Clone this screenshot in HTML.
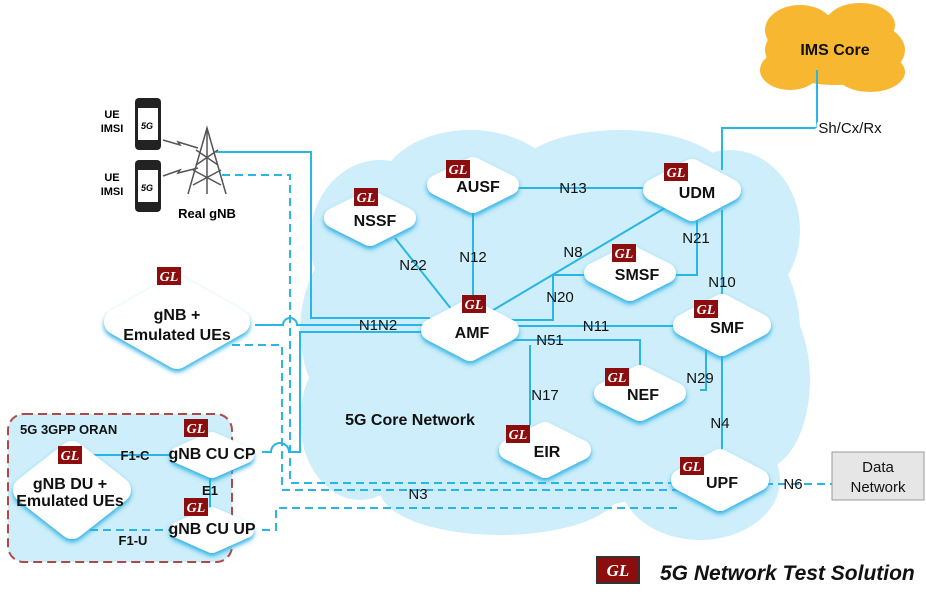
<!DOCTYPE html>
<html><head><meta charset="utf-8"><style>
body{margin:0;background:#fff;}
svg{display:block;font-family:"Liberation Sans",sans-serif;}
.n{font-weight:bold;font-size:16px;fill:#111;text-anchor:middle;}
.l{font-size:15px;fill:#111;text-anchor:middle;}
</style></head><body>
<svg width="926" height="600" viewBox="0 0 926 600">
<defs>
<g id="gl"><rect x="-12" y="-9" width="24" height="18" fill="#8b0d0d"/><text x="0" y="5" font-family="Liberation Serif" font-style="italic" font-weight="bold" font-size="14" fill="#fff" text-anchor="middle">GL</text></g>
<filter id="sh" x="-30%" y="-40%" width="160%" height="190%"><feDropShadow dx="0" dy="3" stdDeviation="2.5" flood-color="#2ab0e4" flood-opacity="1"/></filter>
</defs>
<g fill="#cdeefa">
<ellipse cx="550" cy="330" rx="250" ry="180"/>
<ellipse cx="470" cy="190" rx="90" ry="60"/>
<ellipse cx="620" cy="180" rx="110" ry="50"/>
<ellipse cx="730" cy="230" rx="70" ry="80"/>
<ellipse cx="380" cy="240" rx="70" ry="80"/>
<ellipse cx="360" cy="420" rx="60" ry="80"/>
<ellipse cx="500" cy="490" rx="120" ry="45"/>
<ellipse cx="700" cy="480" rx="80" ry="60"/>
<ellipse cx="760" cy="380" rx="50" ry="90"/>
</g>
<rect x="8" y="414" width="224" height="148" rx="16" fill="#cdeefa" stroke="#b04848" stroke-width="2" stroke-dasharray="9,5"/>
<text x="20" y="434" font-size="13" font-weight="bold" fill="#111">5G 3GPP ORAN</text>
<g fill="#f7b731">
<ellipse cx="835" cy="50" rx="70" ry="35"/><ellipse cx="800" cy="30" rx="35" ry="25"/><ellipse cx="860" cy="25" rx="35" ry="22"/><ellipse cx="790" cy="70" rx="30" ry="20"/><ellipse cx="870" cy="72" rx="35" ry="20"/>
</g>
<text x="835" y="55" class="n" font-size="15">IMS Core</text>
<g stroke="#29b6e4" stroke-width="2" fill="none">
<polyline points="817,70 817,128 722,128 722,170"/>
<line x1="515" y1="188" x2="650" y2="188"/>
<line x1="473" y1="208" x2="473" y2="310"/>
<line x1="395" y1="238" x2="452" y2="310"/>
<line x1="670" y1="205" x2="490" y2="312"/>
<polyline points="495,320 553,320 553,275 590,275"/>
<polyline points="697,215 697,275 672,275"/>
<line x1="722" y1="210" x2="722" y2="305"/>
<line x1="510" y1="326" x2="680" y2="326"/>
<polyline points="500,340 640,340 640,372"/>
<line x1="530" y1="345" x2="530" y2="425"/>
<polyline points="700,390 706,390 706,345"/>
<line x1="722" y1="345" x2="722" y2="460"/>
<polyline points="216,152 311,152 311,318 430,318"/>
<path d="M255,325 L283,325 A7,7 0 0 1 297,325 L430,325"/>
<path d="M262,452 L271,452 A9,9 0 0 1 289,452 L300,452 L300,332 L430,332"/>
<line x1="85" y1="455" x2="175" y2="455"/>
<line x1="210" y1="477" x2="210" y2="508"/>
</g>
<g stroke="#29b6e4" stroke-width="2" fill="none" stroke-dasharray="8,5">
<polyline points="222,175 290,175 290,483 680,483"/>
<polyline points="232,345 282,345 282,490 680,490"/>
<polyline points="262,530 276,530 276,508 680,508"/>
<line x1="90" y1="530" x2="170" y2="530"/>
<line x1="765" y1="484" x2="832" y2="484"/>
</g>
<g class="l">
<text x="850" y="133" fill="#111" font-size="15" text-anchor="middle" style="paint-order:stroke" stroke="#fff" stroke-width="6">Sh/Cx/Rx</text>
<text x="573" y="193">N13</text><text x="473" y="262">N12</text><text x="413" y="270">N22</text>
<text x="573" y="257">N8</text><text x="696" y="243">N21</text><text x="560" y="302">N20</text>
<text x="722" y="287">N10</text><text x="378" y="330">N1N2</text><text x="596" y="331">N11</text>
<text x="550" y="345">N51</text><text x="700" y="383">N29</text><text x="545" y="400">N17</text>
<text x="720" y="428">N4</text><text x="418" y="499">N3</text><text x="793" y="489">N6</text>
<text x="135" y="460" font-weight="bold" font-size="13">F1-C</text>
<text x="133" y="545" font-weight="bold" font-size="13">F1-U</text>
<text x="210" y="495" font-weight="bold" font-size="13">E1</text>
</g>
<text x="410" y="425" class="n">5G Core Network</text>
<g stroke-linejoin="round" fill="#fff" stroke="#fff" filter="url(#sh)">
<polygon transform="translate(473,185)" points="-36,0 0,-18 36,0 0,18" stroke-width="20"/>
<polygon transform="translate(692,190)" points="-38,0 0,-20 38,0 0,20" stroke-width="22"/>
<polygon transform="translate(370,218)" points="-36,0 0,-18 36,0 0,18" stroke-width="20"/>
<polygon transform="translate(630,273)" points="-36,0 0,-18 36,0 0,18" stroke-width="20"/>
<polygon transform="translate(470,330)" points="-38,0 0,-20 38,0 0,20" stroke-width="22"/>
<polygon transform="translate(722,325)" points="-38,0 0,-20 38,0 0,20" stroke-width="22"/>
<polygon transform="translate(640,393)" points="-36,0 0,-18 36,0 0,18" stroke-width="20"/>
<polygon transform="translate(545,450)" points="-36,0 0,-18 36,0 0,18" stroke-width="20"/>
<polygon transform="translate(720,480)" points="-38,0 0,-20 38,0 0,20" stroke-width="22"/>
<polygon transform="translate(177,322)" points="-60,0 0,-34 60,0 0,34" stroke-width="26"/>
<polygon transform="translate(72,490)" points="-46,0 0,-36 46,0 0,36" stroke-width="26"/>
<polygon transform="translate(212,455)" points="-34,0 0,-15 34,0 0,15" stroke-width="16"/>
<polygon transform="translate(212,530)" points="-34,0 0,-15 34,0 0,15" stroke-width="16"/>
</g>
<text x="478" y="192" class="n">AUSF</text>
<text x="697" y="198" class="n">UDM</text>
<text x="375" y="226" class="n">NSSF</text>
<text x="637" y="280" class="n">SMSF</text>
<text x="472" y="338" class="n">AMF</text>
<text x="727" y="333" class="n">SMF</text>
<text x="643" y="400" class="n">NEF</text>
<text x="547" y="457" class="n">EIR</text>
<text x="722" y="488" class="n">UPF</text>
<text x="177" y="320" class="n" font-size="16">gNB +</text>
<text x="177" y="340" class="n" font-size="16">Emulated UEs</text>
<text x="70" y="489" class="n" font-size="13">gNB DU +</text>
<text x="70" y="506" class="n" font-size="13">Emulated UEs</text>
<text x="212" y="459" class="n" font-size="11">gNB CU CP</text>
<text x="212" y="534" class="n" font-size="11">gNB CU UP</text>
<use href="#gl" x="458" y="169"/><use href="#gl" x="676" y="172"/><use href="#gl" x="366" y="197"/>
<use href="#gl" x="624" y="253"/><use href="#gl" x="474" y="304"/><use href="#gl" x="706" y="309"/>
<use href="#gl" x="617" y="377"/><use href="#gl" x="518" y="434"/><use href="#gl" x="692" y="466"/>
<use href="#gl" x="169" y="276"/><use href="#gl" x="70" y="455"/><use href="#gl" x="196" y="428"/><use href="#gl" x="196" y="507"/>
<rect x="832" y="452" width="92" height="48" fill="#e6e6e6" stroke="#999"/>
<text x="878" y="472" class="l" font-size="14">Data</text>
<text x="878" y="492" class="l" font-size="14">Network</text>
<g>
<rect x="135" y="98" width="26" height="52" rx="4" fill="#222"/><rect x="138" y="108" width="20" height="32" fill="#fff"/>
<text x="147" y="129" font-size="9" font-weight="bold" font-style="italic" text-anchor="middle">5G</text>
<rect x="135" y="160" width="26" height="52" rx="4" fill="#222"/><rect x="138" y="170" width="20" height="32" fill="#fff"/>
<text x="147" y="191" font-size="9" font-weight="bold" font-style="italic" text-anchor="middle">5G</text>
<text x="112" y="118" font-size="11" font-weight="bold" text-anchor="middle">UE</text>
<text x="112" y="132" font-size="11" font-weight="bold" text-anchor="middle">IMSI</text>
<text x="112" y="181" font-size="11" font-weight="bold" text-anchor="middle">UE</text>
<text x="112" y="195" font-size="11" font-weight="bold" text-anchor="middle">IMSI</text>
<g stroke="#555" stroke-width="1.5" fill="none">
<polyline points="188,194 207,128 226,194"/><line x1="207" y1="128" x2="207" y2="194"/>
<path d="M196,150 L218,165 M218,150 L196,165 M193,170 L221,185 M221,170 L193,185"/>
<polyline points="163,140 180,145 178,142 198,148"/><polyline points="163,176 180,170 178,173 198,168"/>
</g>
<text x="207" y="218" font-size="13" font-weight="bold" text-anchor="middle">Real gNB</text>
</g>
<rect x="597" y="557" width="42" height="26" fill="#8b0d0d" stroke="#333" stroke-width="2"/>
<text x="618" y="576" font-family="Liberation Serif" font-style="italic" font-weight="bold" font-size="17" fill="#fff" text-anchor="middle">GL</text>
<text x="660" y="580" font-size="21" font-weight="bold" font-style="italic" fill="#111">5G Network Test Solution</text>
</svg>
</body></html>
